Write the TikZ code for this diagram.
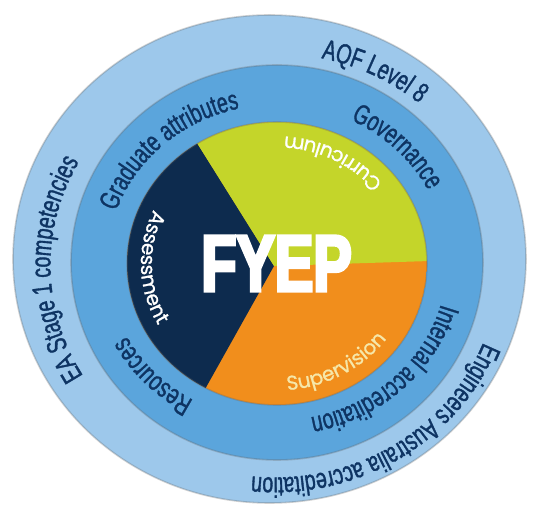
\documentclass[tikz,border=0pt]{standalone}
\usepackage{fontspec}
\setmainfont{Liberation Sans}
\newfontfamily\ringfont[FakeStretch=0.7,FakeBold=1.2]{Liberation Sans}
\newfontfamily\fyepfont[FakeStretch=0.72,FakeBold=4]{Liberation Sans Bold}
\newfontfamily\piefont[FakeBold=1]{Poppins}
\usetikzlibrary{calc,decorations.text}
\definecolor{outerblue}{HTML}{9DC8EB}
\definecolor{ringblue}{HTML}{5BA5DC}
\definecolor{navy}{HTML}{0D2B4E}
\definecolor{lime}{HTML}{C4D52A}
\definecolor{pieorange}{HTML}{F18E1C}
\definecolor{ringink}{HTML}{0E3463}
\definecolor{cream}{HTML}{F6E7A9}
\tikzset{
  ringlabel/.style={decorate,decoration={text along path,text align=center,text color=ringink,
    text={|\ringfont\fontsize{28}{28}\selectfont|#1}}},
  pielabel/.style 2 args={decorate,decoration={text along path,text align=center,text color=#1,
    text={|\piefont\fontsize{20}{20}\selectfont|#2}}},
  rimshade/.style={draw=black!60,line width=1.6pt,opacity=.3}
}
\begin{document}
\begin{tikzpicture}[x=1pt,y=1pt]
\useasboundingbox (0,0) rectangle (533,508);
\coordinate (oc) at (269.5,249);
\coordinate (mc) at (277,245.5);
\coordinate (ic) at (277,244.5);
\coordinate (ot) at (274.5,242.5);
\coordinate (hub) at (274,242);
\coordinate (t) at (197,365);
\coordinate (b) at (204,117);
\coordinate (r) at (430,247);

\fill[outerblue] (oc) ellipse [x radius=256.5,y radius=244];
\draw[rimshade] (oc) ellipse [x radius=256.5,y radius=244];
\fill[ringblue] (mc) ellipse [x radius=206,y radius=197.5];
\draw[rimshade] (mc) ellipse [x radius=206,y radius=197.5];
\begin{scope}
\clip (ic) ellipse [x radius=150,y radius=141.5];
\fill[pieorange] (ic) ellipse [x radius=150,y radius=141.5];
\fill[navy] (hub) -- ($(hub)!3!(t)$) -- (-200,611) -- (-200,-133) -- ($(hub)!3!(b)$) -- cycle;
\fill[lime] (hub) -- ($(hub)!3!(t)$) -- (800,611) -- ($(hub)!3!(r)$) -- cycle;
\end{scope}
\draw[rimshade] (ic) ellipse [x radius=150,y radius=141.5];

\path[ringlabel={AQF Level 8}] ($(ot)+(123:224 and 212)$) arc[start angle=123,end angle=3,x radius=224,y radius=212];
\path[ringlabel={EA Stage 1 competencies}] ($(ot)+(241:224 and 212)$) arc[start angle=241,end angle=121,x radius=224,y radius=212];
\path[ringlabel={Engineers Australia accreditation}] ($(ot)+(2:224 and 212)$) arc[start angle=2,end angle=-118,x radius=224,y radius=212];

\path[ringlabel={Graduate attributes}] ($(mc)+(193:170 and 158)$) arc[start angle=193,end angle=73,x radius=170,y radius=158];
\path[ringlabel={Governance}] ($(mc)+(85:170 and 158)$) arc[start angle=85,end angle=5,x radius=170,y radius=158];
\path[ringlabel={Internal accreditation}] ($(mc)+(14:170 and 158)$) arc[start angle=14,end angle=-106,x radius=170,y radius=158];
\path[ringlabel={Resources}] ($(mc)+(263.5:170 and 158)$) arc[start angle=263.5,end angle=183.5,x radius=170,y radius=158];

\path[pielabel={white}{Curriculum}] ($(ic)+(2:136 and 127)$) arc[start angle=2,end angle=122,x radius=136,y radius=127];
\path[pielabel={white}{Assessment}] ($(ic)+(122:136 and 127)$) arc[start angle=122,end angle=242,x radius=136,y radius=127];
\path[pielabel={cream}{Supervision}] ($(ic)+(-120:136 and 127)$) arc[start angle=-120,end angle=0,x radius=136,y radius=127];

\node[font=\fyepfont\fontsize{80}{80}\selectfont,text=white,inner sep=0pt] (fyep) at (276.5,244.5) {FYEP};
\end{tikzpicture}
\end{document}
